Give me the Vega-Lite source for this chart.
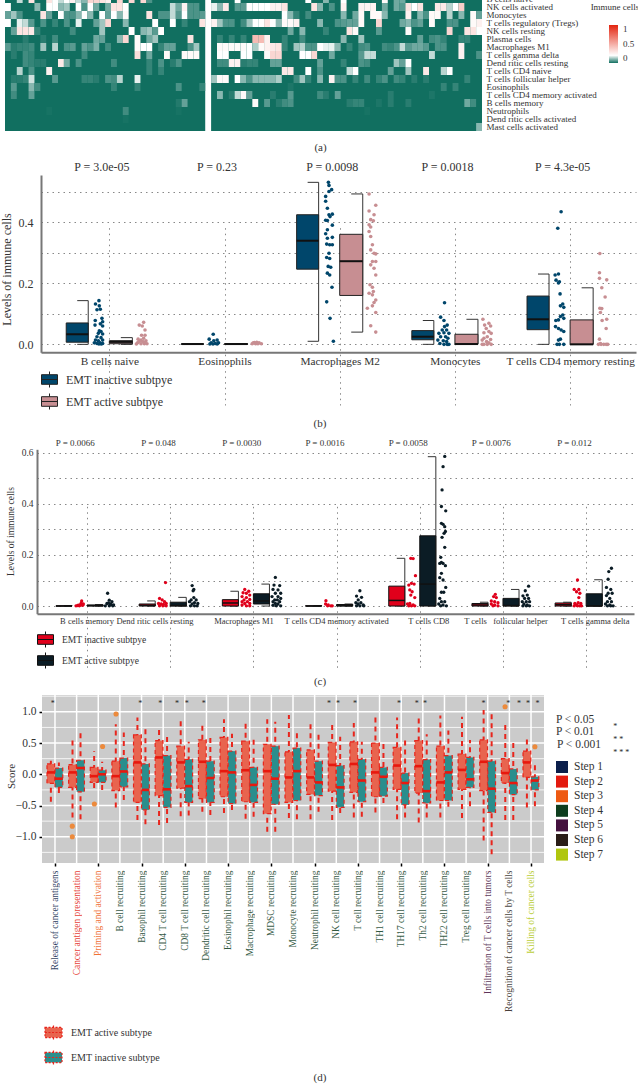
{"$schema":"https://vega.github.io/schema/vega-lite/v6.json","padding":{"left":0,"top":-8,"right":0,"bottom":0},"bounds":"flush","spacing":0,"background":"white",
"resolve":{"scale":{"color":"independent","fill":"independent"},"legend":{"color":"independent","fill":"independent"}},
"config":{"font":"Liberation Serif","view":{"stroke":null},"axis":{"labelColor":"#333","titleColor":"#333","titleFontWeight":"normal","labelOverlap":false,"labelBound":false,"labelFlush":false},"legend":{"labelColor":"#333","titleFontWeight":"normal"},"title":{"fontWeight":"normal","color":"#333"}},
"datasets":{
"heatBase":[{"r":0,"c0":-0.5,"c1":33.5,"v":0},{"r":1,"c0":-0.5,"c1":33.5,"v":0},{"r":2,"c0":-0.5,"c1":33.5,"v":0},{"r":3,"c0":-0.5,"c1":33.5,"v":0},{"r":4,"c0":-0.5,"c1":33.5,"v":0},{"r":5,"c0":-0.5,"c1":33.5,"v":0},{"r":6,"c0":-0.5,"c1":33.5,"v":0},{"r":7,"c0":-0.5,"c1":33.5,"v":0},{"r":8,"c0":-0.5,"c1":33.5,"v":0},{"r":9,"c0":-0.5,"c1":33.5,"v":0},{"r":10,"c0":-0.5,"c1":33.5,"v":0},{"r":11,"c0":-0.5,"c1":33.5,"v":0},{"r":12,"c0":-0.5,"c1":33.5,"v":0},{"r":13,"c0":-0.5,"c1":33.5,"v":0},{"r":14,"c0":-0.5,"c1":33.5,"v":0},{"r":15,"c0":-0.5,"c1":33.5,"v":0},{"r":16,"c0":-0.5,"c1":33.5,"v":0},{"r":0,"c0":34.5,"c1":80.5,"v":0},{"r":1,"c0":34.5,"c1":80.5,"v":0},{"r":2,"c0":34.5,"c1":80.5,"v":0},{"r":3,"c0":34.5,"c1":80.5,"v":0},{"r":4,"c0":34.5,"c1":80.5,"v":0},{"r":5,"c0":34.5,"c1":80.5,"v":0},{"r":6,"c0":34.5,"c1":80.5,"v":0},{"r":7,"c0":34.5,"c1":80.5,"v":0},{"r":8,"c0":34.5,"c1":80.5,"v":0},{"r":9,"c0":34.5,"c1":80.5,"v":0},{"r":10,"c0":34.5,"c1":80.5,"v":0},{"r":11,"c0":34.5,"c1":80.5,"v":0},{"r":12,"c0":34.5,"c1":80.5,"v":0},{"r":13,"c0":34.5,"c1":80.5,"v":0},{"r":14,"c0":34.5,"c1":80.5,"v":0},{"r":15,"c0":34.5,"c1":80.5,"v":0},{"r":16,"c0":34.5,"c1":80.5,"v":0}],
"heat":[
{"r":0,"c":2,"v":0.15},{"r":0,"c":4,"v":0.3},{"r":0,"c":7,"v":0.3},{"r":0,"c":8,"v":0.2},{"r":0,"c":9,"v":0.15},{"r":0,"c":10,"v":0.2},{"r":0,"c":11,"v":0.25},{"r":0,"c":12,"v":0.15},{"r":0,"c":13,"v":0.1},{"r":0,"c":14,"v":0.35},{"r":0,"c":15,"v":0.35},{"r":0,"c":16,"v":0.3},{"r":0,"c":17,"v":0.25},{"r":0,"c":19,"v":0.35},{"r":0,"c":21,"v":0.35},{"r":0,"c":23,"v":0.35},{"r":0,"c":24,"v":0.05},
{"r":1,"c":0,"v":0.2},{"r":1,"c":5,"v":0.1},{"r":1,"c":7,"v":0.2},{"r":1,"c":8,"v":0.2},{"r":1,"c":9,"v":0.1},{"r":1,"c":10,"v":0.12},{"r":1,"c":12,"v":0.2},{"r":1,"c":13,"v":0.05},{"r":1,"c":14,"v":0.2},{"r":1,"c":15,"v":0.08},{"r":1,"c":17,"v":0.08},{"r":1,"c":18,"v":0.3},{"r":1,"c":19,"v":0.3},{"r":1,"c":20,"v":0.2},{"r":1,"c":28,"v":0.15},{"r":1,"c":29,"v":0.08},{"r":1,"c":30,"v":0.25},{"r":1,"c":31,"v":0.05},{"r":1,"c":32,"v":0.05},
{"r":2,"c":0,"v":0.07},{"r":2,"c":1,"v":0.12},{"r":2,"c":2,"v":0.05},{"r":2,"c":6,"v":0.3},{"r":2,"c":7,"v":0.07},{"r":2,"c":9,"v":0.2},{"r":2,"c":10,"v":0.05},{"r":2,"c":11,"v":0.05},{"r":2,"c":12,"v":0.1},{"r":2,"c":13,"v":0.2},{"r":2,"c":14,"v":0.1},{"r":2,"c":16,"v":0.2},{"r":2,"c":17,"v":0.07},{"r":2,"c":18,"v":0.2},{"r":2,"c":19,"v":0.1},{"r":2,"c":20,"v":0.22},{"r":2,"c":24,"v":0.3},{"r":2,"c":26,"v":0.05},{"r":2,"c":27,"v":0.05},{"r":2,"c":28,"v":0.15},{"r":2,"c":29,"v":0.06},{"r":2,"c":30,"v":0.2},{"r":2,"c":31,"v":0.05},{"r":2,"c":32,"v":0.05},{"r":2,"c":33,"v":0.06},
{"r":3,"c":0,"v":0.2},{"r":3,"c":2,"v":0.18},{"r":3,"c":3,"v":0.15},{"r":3,"c":4,"v":0.06},{"r":3,"c":6,"v":0.05},{"r":3,"c":8,"v":0.03},{"r":3,"c":10,"v":0.05},{"r":3,"c":12,"v":0.18},{"r":3,"c":15,"v":0.07},{"r":3,"c":16,"v":0.12},{"r":3,"c":17,"v":0.35},{"r":3,"c":20,"v":0.1},{"r":3,"c":25,"v":0.2},{"r":3,"c":28,"v":0.2},{"r":3,"c":30,"v":0.03},{"r":3,"c":33,"v":0.3},
{"r":4,"c":1,"v":0.07},{"r":4,"c":2,"v":0.3},{"r":4,"c":3,"v":0.3},{"r":4,"c":4,"v":0.28},{"r":4,"c":5,"v":0.03},{"r":4,"c":11,"v":0.04},{"r":4,"c":16,"v":0.12},{"r":4,"c":21,"v":0.2},{"r":4,"c":23,"v":0.1},{"r":4,"c":24,"v":0.12},{"r":4,"c":25,"v":0.06},{"r":4,"c":26,"v":0.2},
{"r":5,"c":3,"v":0.02},{"r":5,"c":6,"v":0.02},{"r":5,"c":8,"v":0.04},{"r":5,"c":15,"v":0.08},{"r":5,"c":16,"v":0.07},{"r":5,"c":19,"v":0.1},{"r":5,"c":20,"v":0.35},{"r":5,"c":22,"v":0.22},{"r":5,"c":24,"v":0.08},{"r":5,"c":25,"v":0.12},{"r":5,"c":31,"v":0.3},
{"r":6,"c":0,"v":0.06},{"r":6,"c":1,"v":0.02},{"r":6,"c":2,"v":0.03},{"r":6,"c":3,"v":0.03},{"r":6,"c":4,"v":0.04},{"r":6,"c":6,"v":0.12},{"r":6,"c":8,"v":0.14},{"r":6,"c":10,"v":0.05},{"r":6,"c":11,"v":0.06},{"r":6,"c":13,"v":0.07},{"r":6,"c":14,"v":0.05},{"r":6,"c":15,"v":0.09},{"r":6,"c":17,"v":0.04},{"r":6,"c":22,"v":0.22},{"r":6,"c":23,"v":0.2},{"r":6,"c":24,"v":0.2},{"r":6,"c":26,"v":0.03},{"r":6,"c":27,"v":0.07},{"r":6,"c":28,"v":0.07},{"r":6,"c":31,"v":0.05},{"r":6,"c":32,"v":0.12},
{"r":7,"c":1,"v":0.02},{"r":7,"c":3,"v":0.04},{"r":7,"c":4,"v":0.03},{"r":7,"c":13,"v":0.04},{"r":7,"c":22,"v":0.32},{"r":7,"c":24,"v":0.08},{"r":7,"c":27,"v":0.22},{"r":7,"c":30,"v":0.22},{"r":7,"c":31,"v":0.22},{"r":7,"c":32,"v":0.22},
{"r":8,"c":3,"v":0.04},{"r":8,"c":4,"v":0.03},{"r":8,"c":5,"v":0.02},{"r":8,"c":6,"v":0.02},{"r":8,"c":9,"v":0.28},{"r":8,"c":10,"v":0.08},{"r":8,"c":12,"v":0.05},{"r":8,"c":18,"v":0.04},{"r":8,"c":24,"v":0.03},{"r":8,"c":26,"v":0.05},{"r":8,"c":28,"v":0.02},{"r":8,"c":29,"v":0.05},
{"r":9,"c":2,"v":0.14},{"r":9,"c":4,"v":0.05},{"r":9,"c":7,"v":0.25},{"r":9,"c":24,"v":0.03},{"r":9,"c":26,"v":0.03},
{"r":10,"c":1,"v":0.02},{"r":10,"c":2,"v":0.02},{"r":10,"c":3,"v":0.03},{"r":10,"c":4,"v":0.16},{"r":10,"c":8,"v":0.06},{"r":10,"c":13,"v":0.03},{"r":10,"c":14,"v":0.03},{"r":10,"c":15,"v":0.02},{"r":10,"c":17,"v":0.05},{"r":10,"c":18,"v":0.04},{"r":10,"c":19,"v":0.14},{"r":10,"c":22,"v":0.18},
{"r":11,"c":1,"v":0.06},{"r":11,"c":4,"v":0.1},{"r":11,"c":5,"v":0.04},{"r":11,"c":18,"v":0.03},{"r":11,"c":22,"v":0.03},{"r":11,"c":29,"v":0.05},{"r":11,"c":33,"v":0.03},
{"r":12,"c":1,"v":0.04},{"r":12,"c":4,"v":0.07},
{"r":13,"c":29,"v":0.015},{"r":13,"c":30,"v":0.07},
{"r":14,"c":7,"v":0.005},{"r":14,"c":20,"v":0.04},{"r":14,"c":29,"v":0.005},
{"r":15,"c":20,"v":0.005},
{"r":0,"c":39,"v":0.2},{"r":0,"c":51,"v":0.2},{"r":0,"c":54,"v":0.1},{"r":0,"c":57,"v":0.2},{"r":0,"c":64,"v":0.22},{"r":0,"c":66,"v":0.08},{"r":0,"c":67,"v":0.08},
{"r":1,"c":35,"v":0.18},{"r":1,"c":36,"v":0.1},{"r":1,"c":37,"v":0.28},{"r":1,"c":39,"v":0.06},{"r":1,"c":40,"v":0.06},{"r":1,"c":41,"v":0.2},{"r":1,"c":42,"v":0.2},{"r":1,"c":43,"v":0.2},{"r":1,"c":44,"v":0.2},{"r":1,"c":45,"v":0.25},{"r":1,"c":46,"v":0.25},{"r":1,"c":47,"v":0.3},{"r":1,"c":52,"v":0.3},{"r":1,"c":53,"v":0.1},{"r":1,"c":55,"v":0.05},{"r":1,"c":57,"v":0.25},{"r":1,"c":60,"v":0.24},{"r":1,"c":61,"v":0.24},{"r":1,"c":62,"v":0.24},{"r":1,"c":64,"v":0.08},{"r":1,"c":66,"v":0.08},{"r":1,"c":67,"v":0.06},{"r":1,"c":68,"v":0.3},{"r":1,"c":69,"v":0.2},{"r":1,"c":70,"v":0.3},{"r":1,"c":73,"v":0.28},{"r":1,"c":74,"v":0.28},{"r":1,"c":75,"v":0.14},{"r":1,"c":76,"v":0.2},{"r":1,"c":77,"v":0.38},
{"r":2,"c":47,"v":0.2},{"r":2,"c":48,"v":0.1},{"r":2,"c":49,"v":0.03},{"r":2,"c":51,"v":0.04},{"r":2,"c":57,"v":0.1},{"r":2,"c":59,"v":0.08},{"r":2,"c":60,"v":0.22},{"r":2,"c":62,"v":0.22},{"r":2,"c":63,"v":0.22},{"r":2,"c":64,"v":0.1},{"r":2,"c":68,"v":0.25},{"r":2,"c":70,"v":0.1},{"r":2,"c":71,"v":0.05},{"r":2,"c":72,"v":0.22},{"r":2,"c":73,"v":0.22},{"r":2,"c":75,"v":0.14},{"r":2,"c":77,"v":0.1},{"r":2,"c":79,"v":0.22},{"r":2,"c":80,"v":0.07},
{"r":3,"c":35,"v":0.25},{"r":3,"c":36,"v":0.12},{"r":3,"c":37,"v":0.05},{"r":3,"c":38,"v":0.05},{"r":3,"c":40,"v":0.04},{"r":3,"c":41,"v":0.12},{"r":3,"c":42,"v":0.2},{"r":3,"c":43,"v":0.2},{"r":3,"c":44,"v":0.3},{"r":3,"c":45,"v":0.2},{"r":3,"c":46,"v":0.1},{"r":3,"c":47,"v":0.22},{"r":3,"c":48,"v":0.22},{"r":3,"c":49,"v":0.25},{"r":3,"c":53,"v":0.1},{"r":3,"c":56,"v":0.05},{"r":3,"c":57,"v":0.06},{"r":3,"c":58,"v":0.07},{"r":3,"c":59,"v":0.07},{"r":3,"c":60,"v":0.22},{"r":3,"c":63,"v":0.35},{"r":3,"c":67,"v":0.08},{"r":3,"c":68,"v":0.1},{"r":3,"c":69,"v":0.05},{"r":3,"c":70,"v":0.07},{"r":3,"c":72,"v":0.22},{"r":3,"c":75,"v":0.05},{"r":3,"c":76,"v":0.05},{"r":3,"c":79,"v":0.22},{"r":3,"c":80,"v":0.25},
{"r":4,"c":48,"v":0.08},{"r":4,"c":50,"v":0.1},{"r":4,"c":54,"v":0.03},{"r":4,"c":58,"v":0.3},{"r":4,"c":59,"v":0.22},{"r":4,"c":63,"v":0.06},{"r":4,"c":68,"v":0.22},{"r":4,"c":75,"v":0.35},{"r":4,"c":78,"v":0.3},{"r":4,"c":79,"v":0.3},{"r":4,"c":80,"v":0.2},
{"r":5,"c":36,"v":0.03},{"r":5,"c":38,"v":0.03},{"r":5,"c":40,"v":0.03},{"r":5,"c":42,"v":0.45},{"r":5,"c":43,"v":0.45},{"r":5,"c":44,"v":0.25},{"r":5,"c":47,"v":0.03},{"r":5,"c":50,"v":0.04},{"r":5,"c":57,"v":0.1},{"r":5,"c":60,"v":0.12},{"r":5,"c":70,"v":0.07},{"r":5,"c":72,"v":0.04},{"r":5,"c":73,"v":0.05},{"r":5,"c":74,"v":0.03},{"r":5,"c":77,"v":0.03},{"r":5,"c":78,"v":0.03},
{"r":6,"c":36,"v":0.22},{"r":6,"c":37,"v":0.22},{"r":6,"c":38,"v":0.22},{"r":6,"c":39,"v":0.22},{"r":6,"c":40,"v":0.22},{"r":6,"c":41,"v":0.2},{"r":6,"c":42,"v":0.13},{"r":6,"c":43,"v":0.22},{"r":6,"c":44,"v":0.25},{"r":6,"c":45,"v":0.28},{"r":6,"c":46,"v":0.3},{"r":6,"c":47,"v":0.03},{"r":6,"c":49,"v":0.12},{"r":6,"c":50,"v":0.14},{"r":6,"c":51,"v":0.05},{"r":6,"c":52,"v":0.05},{"r":6,"c":53,"v":0.2},{"r":6,"c":54,"v":0.18},{"r":6,"c":55,"v":0.18},{"r":6,"c":56,"v":0.1},{"r":6,"c":58,"v":0.03},{"r":6,"c":60,"v":0.04},{"r":6,"c":61,"v":0.05},{"r":6,"c":64,"v":0.04},{"r":6,"c":65,"v":0.03},{"r":6,"c":66,"v":0.05},{"r":6,"c":67,"v":0.15},{"r":6,"c":68,"v":0.06},{"r":6,"c":69,"v":0.08},{"r":6,"c":70,"v":0.08},{"r":6,"c":71,"v":0.06},{"r":6,"c":73,"v":0.05},{"r":6,"c":74,"v":0.05},{"r":6,"c":77,"v":0.25},
{"r":7,"c":36,"v":0.2},{"r":7,"c":37,"v":0.2},{"r":7,"c":40,"v":0.2},{"r":7,"c":41,"v":0.2},{"r":7,"c":44,"v":0.22},{"r":7,"c":45,"v":0.35},{"r":7,"c":46,"v":0.35},{"r":7,"c":50,"v":0.2},{"r":7,"c":51,"v":0.2},{"r":7,"c":52,"v":0.35},{"r":7,"c":55,"v":0.08},{"r":7,"c":60,"v":0.06},{"r":7,"c":61,"v":0.15},{"r":7,"c":62,"v":0.15},{"r":7,"c":72,"v":0.15},{"r":7,"c":77,"v":0.25},{"r":7,"c":80,"v":0.05},
{"r":8,"c":36,"v":0.04},{"r":8,"c":37,"v":0.04},{"r":8,"c":38,"v":0.25},{"r":8,"c":39,"v":0.25},{"r":8,"c":40,"v":0.02},{"r":8,"c":41,"v":0.03},{"r":8,"c":42,"v":0.03},{"r":8,"c":45,"v":0.07},{"r":8,"c":46,"v":0.07},{"r":8,"c":53,"v":0.07},{"r":8,"c":57,"v":0.03},{"r":8,"c":60,"v":0.05},{"r":8,"c":61,"v":0.04},{"r":8,"c":66,"v":0.12},{"r":8,"c":67,"v":0.07},{"r":8,"c":68,"v":0.2},
{"r":9,"c":47,"v":0.28},{"r":9,"c":48,"v":0.28},{"r":9,"c":51,"v":0.2},{"r":9,"c":53,"v":0.05},{"r":9,"c":58,"v":0.15},{"r":9,"c":59,"v":0.2},{"r":9,"c":65,"v":0.07},{"r":9,"c":68,"v":0.12},{"r":9,"c":71,"v":0.28},{"r":9,"c":74,"v":0.14},{"r":9,"c":75,"v":0.2},
{"r":10,"c":35,"v":0.12},{"r":10,"c":36,"v":0.22},{"r":10,"c":37,"v":0.22},{"r":10,"c":39,"v":0.2},{"r":10,"c":40,"v":0.1},{"r":10,"c":41,"v":0.05},{"r":10,"c":42,"v":0.1},{"r":10,"c":43,"v":0.1},{"r":10,"c":44,"v":0.1},{"r":10,"c":45,"v":0.1},{"r":10,"c":46,"v":0.13},{"r":10,"c":49,"v":0.04},{"r":10,"c":50,"v":0.12},{"r":10,"c":51,"v":0.03},{"r":10,"c":53,"v":0.1},{"r":10,"c":55,"v":0.25},{"r":10,"c":56,"v":0.05},{"r":10,"c":57,"v":0.05},{"r":10,"c":59,"v":0.03},{"r":10,"c":61,"v":0.04},{"r":10,"c":63,"v":0.03},{"r":10,"c":64,"v":0.05},{"r":10,"c":66,"v":0.04},{"r":10,"c":67,"v":0.03},{"r":10,"c":69,"v":0.02},{"r":10,"c":71,"v":0.02},{"r":10,"c":78,"v":0.03},
{"r":11,"c":48,"v":0.01},{"r":11,"c":74,"v":0.03},{"r":11,"c":76,"v":0.03},
{"r":12,"c":36,"v":0.1},{"r":12,"c":38,"v":0.02},{"r":12,"c":39,"v":0.15},{"r":12,"c":40,"v":0.22},{"r":12,"c":41,"v":0.07},{"r":12,"c":45,"v":0.02},{"r":12,"c":48,"v":0.06},{"r":12,"c":53,"v":0.04},{"r":12,"c":54,"v":0.02},{"r":12,"c":56,"v":0.07},{"r":12,"c":65,"v":0.02},{"r":12,"c":72,"v":0.01},
{"r":13,"c":42,"v":0.22},{"r":13,"c":44,"v":0.06},{"r":13,"c":46,"v":0.02},{"r":13,"c":47,"v":0.04},{"r":13,"c":48,"v":0.05},{"r":13,"c":58,"v":0.02},{"r":13,"c":59,"v":0.03},{"r":13,"c":60,"v":0.03},{"r":13,"c":63,"v":0.01},{"r":13,"c":65,"v":0.02},{"r":13,"c":68,"v":0.02},{"r":13,"c":78,"v":0.08},{"r":13,"c":79,"v":0.04},
{"r":14,"c":61,"v":0.005},
{"r":16,"c":80,"v":0.1}],
"bBox":[{"i":0,"g":"i","lo":0,"q1":0.007,"med":0.033,"q3":0.07,"hi":0.143},{"i":0,"g":"a","lo":0,"q1":0.002,"med":0.008,"q3":0.012,"hi":0.022},{"i":1,"g":"i","lo":0,"q1":0,"med":0.001,"q3":0.002,"hi":0.002},{"i":1,"g":"a","lo":0,"q1":0,"med":0.001,"q3":0.002,"hi":0.002},{"i":2,"g":"i","lo":0.01,"q1":0.246,"med":0.339,"q3":0.424,"hi":0.53},{"i":2,"g":"a","lo":0.04,"q1":0.16,"med":0.272,"q3":0.36,"hi":0.492},{"i":3,"g":"i","lo":0,"q1":0.015,"med":0.025,"q3":0.045,"hi":0.078},{"i":3,"g":"a","lo":0,"q1":0.001,"med":0.001,"q3":0.033,"hi":0.082},{"i":4,"g":"i","lo":0,"q1":0.048,"med":0.082,"q3":0.158,"hi":0.23},{"i":4,"g":"a","lo":0,"q1":0,"med":0,"q3":0.08,"hi":0.185}],
"bPts":[{"g":"i","x":-0.09,"y":0.143},{"g":"i","x":-0.12,"y":0.132},{"g":"i","x":-0.087,"y":0.126},{"g":"i","x":-0.107,"y":0.113},{"g":"i","x":-0.078,"y":0.115},{"g":"i","x":-0.122,"y":0.078},{"g":"i","x":-0.064,"y":0.085},{"g":"i","x":-0.058,"y":0.074},{"g":"i","x":-0.078,"y":0.067},{"g":"i","x":-0.124,"y":0.063},{"g":"i","x":-0.058,"y":0.06},{"g":"i","x":-0.087,"y":0.044},{"g":"i","x":-0.072,"y":0.042},{"g":"i","x":-0.095,"y":0.036},{"g":"i","x":-0.058,"y":0.034},{"g":"i","x":-0.107,"y":0.025},{"g":"i","x":-0.072,"y":0.022},{"g":"i","x":-0.12,"y":0.014},{"g":"i","x":-0.095,"y":0.012},{"g":"i","x":-0.058,"y":0.014},{"g":"i","x":-0.13,"y":0.005},{"g":"i","x":-0.107,"y":0.003},{"g":"i","x":-0.08,"y":0.005},{"g":"i","x":-0.058,"y":0.003},{"g":"i","x":-0.09,"y":0.001},{"g":"i","x":-0.07,"y":0.001},
{"g":"a","x":0.298,"y":0.072},{"g":"a","x":0.26,"y":0.063},{"g":"a","x":0.286,"y":0.06},{"g":"a","x":0.31,"y":0.047},{"g":"a","x":0.28,"y":0.03},{"g":"a","x":0.31,"y":0.03},{"g":"a","x":0.298,"y":0.02},{"g":"a","x":0.25,"y":0.017},{"g":"a","x":0.275,"y":0.014},{"g":"a","x":0.318,"y":0.012},{"g":"a","x":0.245,"y":0.005},{"g":"a","x":0.275,"y":0.002},{"g":"a","x":0.304,"y":0.002},{"g":"a","x":0.327,"y":0.002},{"g":"a","x":0.26,"y":0.009},{"g":"a","x":0.29,"y":0.009},{"g":"a","x":0.31,"y":0.006},{"g":"a","x":0.235,"y":0.001},
{"g":"i","x":0.902,"y":0.033},{"g":"i","x":0.867,"y":0.017},{"g":"i","x":0.907,"y":0.012},{"g":"i","x":0.936,"y":0.014},{"g":"i","x":0.884,"y":0.005},{"g":"i","x":0.92,"y":0.003},{"g":"i","x":0.948,"y":0.005},{"g":"i","x":0.873,"y":0.001},{"g":"i","x":0.936,"y":0.001},{"g":"i","x":0.9,"y":0.001},
{"g":"a","x":1.24,"y":0.002},{"g":"a","x":1.26,"y":0.006},{"g":"a","x":1.28,"y":0.007},{"g":"a","x":1.3,"y":0.005},{"g":"a","x":1.32,"y":0.002},{"g":"a","x":1.27,"y":0.002},{"g":"a","x":1.25,"y":0.005},{"g":"a","x":1.29,"y":0.002},
{"g":"i","x":1.902,"y":0.53},{"g":"i","x":1.907,"y":0.52},{"g":"i","x":1.93,"y":0.506},{"g":"i","x":1.907,"y":0.5},{"g":"i","x":1.878,"y":0.484},{"g":"i","x":1.878,"y":0.468},{"g":"i","x":1.893,"y":0.445},{"g":"i","x":1.907,"y":0.424},{"g":"i","x":1.936,"y":0.426},{"g":"i","x":1.916,"y":0.418},{"g":"i","x":1.878,"y":0.406},{"g":"i","x":1.893,"y":0.405},{"g":"i","x":1.936,"y":0.39},{"g":"i","x":1.893,"y":0.375},{"g":"i","x":1.878,"y":0.362},{"g":"i","x":1.893,"y":0.347},{"g":"i","x":1.936,"y":0.35},{"g":"i","x":1.887,"y":0.328},{"g":"i","x":1.913,"y":0.326},{"g":"i","x":1.936,"y":0.326},{"g":"i","x":1.907,"y":0.298},{"g":"i","x":1.887,"y":0.284},{"g":"i","x":1.913,"y":0.281},{"g":"i","x":1.9,"y":0.255},{"g":"i","x":1.922,"y":0.252},{"g":"i","x":1.893,"y":0.233},{"g":"i","x":1.913,"y":0.227},{"g":"i","x":1.933,"y":0.187},{"g":"i","x":1.887,"y":0.139},{"g":"i","x":1.916,"y":0.085},{"g":"i","x":1.945,"y":0.01},
{"g":"a","x":2.255,"y":0.492},{"g":"a","x":2.313,"y":0.455},{"g":"a","x":2.255,"y":0.436},{"g":"a","x":2.298,"y":0.424},{"g":"a","x":2.269,"y":0.408},{"g":"a","x":2.292,"y":0.404},{"g":"a","x":2.255,"y":0.391},{"g":"a","x":2.269,"y":0.384},{"g":"a","x":2.255,"y":0.369},{"g":"a","x":2.269,"y":0.353},{"g":"a","x":2.284,"y":0.326},{"g":"a","x":2.269,"y":0.309},{"g":"a","x":2.298,"y":0.298},{"g":"a","x":2.313,"y":0.296},{"g":"a","x":2.284,"y":0.271},{"g":"a","x":2.313,"y":0.271},{"g":"a","x":2.269,"y":0.26},{"g":"a","x":2.298,"y":0.249},{"g":"a","x":2.313,"y":0.227},{"g":"a","x":2.263,"y":0.195},{"g":"a","x":2.284,"y":0.187},{"g":"a","x":2.292,"y":0.173},{"g":"a","x":2.255,"y":0.167},{"g":"a","x":2.284,"y":0.162},{"g":"a","x":2.313,"y":0.145},{"g":"a","x":2.298,"y":0.137},{"g":"a","x":2.284,"y":0.126},{"g":"a","x":2.24,"y":0.118},{"g":"a","x":2.313,"y":0.104},{"g":"a","x":2.269,"y":0.061},{"g":"a","x":2.313,"y":0.04},
{"g":"i","x":2.91,"y":0.136},{"g":"i","x":2.876,"y":0.089},{"g":"i","x":2.905,"y":0.078},{"g":"i","x":2.933,"y":0.063},{"g":"i","x":2.91,"y":0.058},{"g":"i","x":2.89,"y":0.047},{"g":"i","x":2.928,"y":0.047},{"g":"i","x":2.861,"y":0.036},{"g":"i","x":2.905,"y":0.038},{"g":"i","x":2.948,"y":0.036},{"g":"i","x":2.876,"y":0.025},{"g":"i","x":2.919,"y":0.025},{"g":"i","x":2.939,"y":0.02},{"g":"i","x":2.852,"y":0.014},{"g":"i","x":2.899,"y":0.012},{"g":"i","x":2.928,"y":0.009},{"g":"i","x":2.87,"y":0.003},{"g":"i","x":2.905,"y":0},{"g":"i","x":2.933,"y":0},{"g":"i","x":2.948,"y":0},
{"g":"a","x":3.243,"y":0.082},{"g":"a","x":3.295,"y":0.069},{"g":"a","x":3.258,"y":0.063},{"g":"a","x":3.31,"y":0.06},{"g":"a","x":3.272,"y":0.052},{"g":"a","x":3.295,"y":0.042},{"g":"a","x":3.252,"y":0.038},{"g":"a","x":3.315,"y":0.036},{"g":"a","x":3.281,"y":0.025},{"g":"a","x":3.252,"y":0.02},{"g":"a","x":3.31,"y":0.016},{"g":"a","x":3.237,"y":0.014},{"g":"a","x":3.275,"y":0.009},{"g":"a","x":3.295,"y":0.005},{"g":"a","x":3.252,"y":0},{"g":"a","x":3.281,"y":0},{"g":"a","x":3.315,"y":0},{"g":"a","x":3.237,"y":0},
{"g":"i","x":3.922,"y":0.434},{"g":"i","x":3.893,"y":0.38},{"g":"i","x":3.899,"y":0.23},{"g":"i","x":3.87,"y":0.227},{"g":"i","x":3.878,"y":0.21},{"g":"i","x":3.907,"y":0.205},{"g":"i","x":3.899,"y":0.201},{"g":"i","x":3.913,"y":0.165},{"g":"i","x":3.936,"y":0.132},{"g":"i","x":3.916,"y":0.126},{"g":"i","x":3.945,"y":0.121},{"g":"i","x":3.936,"y":0.096},{"g":"i","x":3.916,"y":0.091},{"g":"i","x":3.945,"y":0.085},{"g":"i","x":3.876,"y":0.078},{"g":"i","x":3.899,"y":0.08},{"g":"i","x":3.873,"y":0.058},{"g":"i","x":3.899,"y":0.052},{"g":"i","x":3.922,"y":0.047},{"g":"i","x":3.945,"y":0.042},{"g":"i","x":3.899,"y":0.014},{"g":"i","x":3.916,"y":0.017},{"g":"i","x":3.887,"y":0},{"g":"i","x":3.907,"y":0},{"g":"i","x":3.945,"y":0},
{"g":"a","x":4.258,"y":0.297},{"g":"a","x":4.255,"y":0.234},{"g":"a","x":4.255,"y":0.216},{"g":"a","x":4.318,"y":0.211},{"g":"a","x":4.275,"y":0.185},{"g":"a","x":4.304,"y":0.155},{"g":"a","x":4.258,"y":0.118},{"g":"a","x":4.275,"y":0.117},{"g":"a","x":4.263,"y":0.104},{"g":"a","x":4.318,"y":0.082},{"g":"a","x":4.278,"y":0.078},{"g":"a","x":4.313,"y":0.052},{"g":"a","x":4.255,"y":0.017},{"g":"a","x":4.246,"y":0},{"g":"a","x":4.269,"y":0},{"g":"a","x":4.292,"y":0},{"g":"a","x":4.313,"y":0},{"g":"a","x":4.327,"y":0},{"g":"a","x":4.263,"y":0.003}],
"bP":[{"x":-0.065,"p":"P = 3.0e-05"},{"x":0.935,"p":"P = 0.23"},{"x":1.935,"p":"P = 0.0098"},{"x":2.935,"p":"P = 0.0018"},{"x":3.935,"p":"P = 4.3e-05"}],
"cBox":[{"i":0,"g":"i","lo":0,"q1":0,"med":0,"q3":0.001,"hi":0.002},{"i":0,"g":"a","lo":0,"q1":0,"med":0.002,"q3":0.004,"hi":0.006},{"i":1,"g":"i","lo":0,"q1":0,"med":0.003,"q3":0.008,"hi":0.02},{"i":1,"g":"a","lo":0,"q1":0,"med":0.002,"q3":0.015,"hi":0.034},{"i":2,"g":"i","lo":0,"q1":0,"med":0.012,"q3":0.025,"hi":0.058},{"i":2,"g":"a","lo":0,"q1":0.008,"med":0.02,"q3":0.048,"hi":0.086},{"i":3,"g":"i","lo":0,"q1":0,"med":0,"q3":0.001,"hi":0.002},{"i":3,"g":"a","lo":0,"q1":0,"med":0.002,"q3":0.006,"hi":0.008},{"i":4,"g":"i","lo":0,"q1":0,"med":0.022,"q3":0.078,"hi":0.187},{"i":4,"g":"a","lo":0,"q1":0,"med":0.086,"q3":0.275,"hi":0.585},{"i":5,"g":"i","lo":0,"q1":0,"med":0.004,"q3":0.01,"hi":0.015},{"i":5,"g":"a","lo":0,"q1":0,"med":0.002,"q3":0.03,"hi":0.065},{"i":6,"g":"i","lo":0,"q1":0,"med":0.005,"q3":0.012,"hi":0.015},{"i":6,"g":"a","lo":0,"q1":0,"med":0,"q3":0.048,"hi":0.103}],
"cPts":[{"g":"i","x":-0.064,"y":0.02},{"g":"i","x":-0.08,"y":0.004},{"g":"i","x":-0.112,"y":0.002},{"g":"i","x":-0.052,"y":0.003},{"g":"i","x":-0.132,"y":0.001},{"g":"i","x":-0.092,"y":0.001},{"g":"i","x":-0.044,"y":0.008},{"g":"i","x":-0.07,"y":0.011},{"g":"i","x":-0.1,"y":0.003},
{"g":"a","x":0.248,"y":0.05},{"g":"a","x":0.268,"y":0.023},{"g":"a","x":0.3,"y":0.017},{"g":"a","x":0.24,"y":0.01},{"g":"a","x":0.28,"y":0.008},{"g":"a","x":0.32,"y":0.004},{"g":"a","x":0.22,"y":0.001},{"g":"a","x":0.268,"y":0.001},{"g":"a","x":0.31,"y":0.001},{"g":"a","x":0.29,"y":0.006},{"g":"a","x":0.258,"y":0.012},
{"g":"i","x":0.944,"y":0.092},{"g":"i","x":0.872,"y":0.03},{"g":"i","x":0.904,"y":0.024},{"g":"i","x":0.932,"y":0.017},{"g":"i","x":0.86,"y":0.01},{"g":"i","x":0.892,"y":0.008},{"g":"i","x":0.952,"y":0.01},{"g":"i","x":0.872,"y":0.001},{"g":"i","x":0.912,"y":0.001},{"g":"i","x":0.952,"y":0.001},{"g":"i","x":0.92,"y":0.006},
{"g":"a","x":1.264,"y":0.08},{"g":"a","x":1.284,"y":0.065},{"g":"a","x":1.276,"y":0.06},{"g":"a","x":1.284,"y":0.033},{"g":"a","x":1.252,"y":0.024},{"g":"a","x":1.312,"y":0.024},{"g":"a","x":1.232,"y":0.017},{"g":"a","x":1.292,"y":0.013},{"g":"a","x":1.264,"y":0.008},{"g":"a","x":1.332,"y":0.01},{"g":"a","x":1.244,"y":0.001},{"g":"a","x":1.292,"y":0.001},{"g":"a","x":1.324,"y":0.001},
{"g":"i","x":1.896,"y":0.065},{"g":"i","x":1.944,"y":0.058},{"g":"i","x":1.876,"y":0.052},{"g":"i","x":1.916,"y":0.05},{"g":"i","x":1.956,"y":0.043},{"g":"i","x":1.864,"y":0.037},{"g":"i","x":1.916,"y":0.033},{"g":"i","x":1.956,"y":0.026},{"g":"i","x":1.888,"y":0.024},{"g":"i","x":1.864,"y":0.017},{"g":"i","x":1.928,"y":0.017},{"g":"i","x":1.896,"y":0.01},{"g":"i","x":1.956,"y":0.01},{"g":"i","x":1.864,"y":0.004},{"g":"i","x":1.916,"y":0.001},{"g":"i","x":1.956,"y":0.001},
{"g":"a","x":2.264,"y":0.112},{"g":"a","x":2.248,"y":0.082},{"g":"a","x":2.316,"y":0.08},{"g":"a","x":2.236,"y":0.065},{"g":"a","x":2.296,"y":0.063},{"g":"a","x":2.328,"y":0.05},{"g":"a","x":2.264,"y":0.05},{"g":"a","x":2.224,"y":0.037},{"g":"a","x":2.296,"y":0.037},{"g":"a","x":2.328,"y":0.03},{"g":"a","x":2.256,"y":0.024},{"g":"a","x":2.288,"y":0.024},{"g":"a","x":2.236,"y":0.017},{"g":"a","x":2.316,"y":0.017},{"g":"a","x":2.264,"y":0.01},{"g":"a","x":2.296,"y":0.008},{"g":"a","x":2.236,"y":0.003},{"g":"a","x":2.276,"y":0.001},{"g":"a","x":2.328,"y":0.001},
{"g":"i","x":2.872,"y":0.021},{"g":"i","x":2.868,"y":0.008},{"g":"i","x":2.9,"y":0.004},{"g":"i","x":2.932,"y":0.001},{"g":"i","x":2.892,"y":0.001},{"g":"i","x":2.948,"y":0.001},
{"g":"a","x":3.28,"y":0.06},{"g":"a","x":3.24,"y":0.039},{"g":"a","x":3.3,"y":0.034},{"g":"a","x":3.26,"y":0.024},{"g":"a","x":3.232,"y":0.013},{"g":"a","x":3.292,"y":0.013},{"g":"a","x":3.32,"y":0.004},{"g":"a","x":3.26,"y":0.008},{"g":"a","x":3.24,"y":0.001},{"g":"a","x":3.28,"y":0.001},{"g":"a","x":3.328,"y":0.001},
{"g":"i","x":3.892,"y":0.187},{"g":"i","x":3.92,"y":0.186},{"g":"i","x":3.948,"y":0.119},{"g":"i","x":3.868,"y":0.082},{"g":"i","x":3.9,"y":0.089},{"g":"i","x":3.932,"y":0.086},{"g":"i","x":3.88,"y":0.063},{"g":"i","x":3.908,"y":0.056},{"g":"i","x":3.892,"y":0.043},{"g":"i","x":3.94,"y":0.033},{"g":"i","x":3.852,"y":0.008},{"g":"i","x":3.88,"y":0.01},{"g":"i","x":3.92,"y":0.004},{"g":"i","x":3.94,"y":0.001},{"g":"i","x":3.868,"y":0.001},{"g":"i","x":3.9,"y":0.001},
{"g":"a","x":4.3,"y":0.586},{"g":"a","x":4.28,"y":0.546},{"g":"a","x":4.268,"y":0.455},{"g":"a","x":4.26,"y":0.39},{"g":"a","x":4.312,"y":0.373},{"g":"a","x":4.26,"y":0.324},{"g":"a","x":4.28,"y":0.32},{"g":"a","x":4.3,"y":0.311},{"g":"a","x":4.308,"y":0.292},{"g":"a","x":4.292,"y":0.285},{"g":"a","x":4.268,"y":0.269},{"g":"a","x":4.3,"y":0.23},{"g":"a","x":4.252,"y":0.191},{"g":"a","x":4.26,"y":0.171},{"g":"a","x":4.28,"y":0.167},{"g":"a","x":4.24,"y":0.167},{"g":"a","x":4.308,"y":0.158},{"g":"a","x":4.26,"y":0.128},{"g":"a","x":4.24,"y":0.111},{"g":"a","x":4.28,"y":0.102},{"g":"a","x":4.312,"y":0.073},{"g":"a","x":4.26,"y":0.054},{"g":"a","x":4.288,"y":0.054},{"g":"a","x":4.24,"y":0.03},{"g":"a","x":4.26,"y":0.017},{"g":"a","x":4.3,"y":0.017},{"g":"a","x":4.228,"y":0.008},{"g":"a","x":4.28,"y":0.004},{"g":"a","x":4.32,"y":0.001},{"g":"a","x":4.252,"y":0.001},
{"g":"i","x":4.908,"y":0.046},{"g":"i","x":4.888,"y":0.037},{"g":"i","x":4.92,"y":0.033},{"g":"i","x":4.86,"y":0.02},{"g":"i","x":4.9,"y":0.017},{"g":"i","x":4.94,"y":0.013},{"g":"i","x":4.86,"y":0.008},{"g":"i","x":4.9,"y":0.004},{"g":"i","x":4.94,"y":0.001},{"g":"i","x":4.88,"y":0.001},
{"g":"a","x":5.308,"y":0.078},{"g":"a","x":5.268,"y":0.06},{"g":"a","x":5.24,"y":0.04},{"g":"a","x":5.292,"y":0.043},{"g":"a","x":5.26,"y":0.03},{"g":"a","x":5.308,"y":0.03},{"g":"a","x":5.232,"y":0.017},{"g":"a","x":5.28,"y":0.017},{"g":"a","x":5.32,"y":0.017},{"g":"a","x":5.252,"y":0.008},{"g":"a","x":5.292,"y":0.004},{"g":"a","x":5.24,"y":0.001},{"g":"a","x":5.28,"y":0.001},{"g":"a","x":5.32,"y":0.001},
{"g":"i","x":5.896,"y":0.102},{"g":"i","x":5.856,"y":0.065},{"g":"i","x":5.912,"y":0.065},{"g":"i","x":5.884,"y":0.056},{"g":"i","x":5.924,"y":0.05},{"g":"i","x":5.912,"y":0.033},{"g":"i","x":5.864,"y":0.01},{"g":"i","x":5.904,"y":0.013},{"g":"i","x":5.936,"y":0.01},{"g":"i","x":5.884,"y":0.004},{"g":"i","x":5.924,"y":0.001},{"g":"i","x":5.856,"y":0.001},{"g":"i","x":5.896,"y":0.001},{"g":"i","x":5.944,"y":0.001},
{"g":"a","x":6.304,"y":0.148},{"g":"a","x":6.272,"y":0.135},{"g":"a","x":6.264,"y":0.105},{"g":"a","x":6.244,"y":0.073},{"g":"a","x":6.296,"y":0.065},{"g":"a","x":6.264,"y":0.05},{"g":"a","x":6.312,"y":0.05},{"g":"a","x":6.244,"y":0.041},{"g":"a","x":6.284,"y":0.03},{"g":"a","x":6.256,"y":0.017},{"g":"a","x":6.304,"y":0.017},{"g":"a","x":6.232,"y":0.008},{"g":"a","x":6.284,"y":0.004},{"g":"a","x":6.324,"y":0.001},{"g":"a","x":6.256,"y":0.001},{"g":"a","x":6.296,"y":0.001}],
"cP":[{"x":-0.14,"p":"P = 0.0066"},{"x":0.86,"p":"P = 0.048"},{"x":1.86,"p":"P = 0.0030"},{"x":2.86,"p":"P = 0.0016"},{"x":3.86,"p":"P = 0.0058"},{"x":4.86,"p":"P = 0.0076"},{"x":5.86,"p":"P = 0.012"}],
"cLab":[{"x":0,"t":"B cells memory"},{"x":0.817,"t":"Dend ritic cells resting"},{"x":1.887,"t":"Macrophages M1"},{"x":3,"t":"T cells CD4 memory activated"},{"x":4.109,"t":"T cells CD8"},{"x":5.036,"t":"T cells\u00a0\u00a0\u00a0follicular helper"},{"x":6.108,"t":"T cells gamma delta"}],
"dCat":[{"i":0,"name":"Release of cancer antigens","step":"Step 1"},{"i":1,"name":"Cancer antigen presentation","step":"Step 2"},{"i":2,"name":"Priming and activation","step":"Step 3"},{"i":3,"name":"B cell recruiting","step":"Step 4"},{"i":4,"name":"Basophil recruiting","step":"Step 4"},{"i":5,"name":"CD4 T cell recruiting","step":"Step 4"},{"i":6,"name":"CD8 T cell recruiting","step":"Step 4"},{"i":7,"name":"Dendritic cell recruiting","step":"Step 4"},{"i":8,"name":"Eosinophil recruiting","step":"Step 4"},{"i":9,"name":"Macrophage recruiting","step":"Step 4"},{"i":10,"name":"MDSC recruiting","step":"Step 4"},{"i":11,"name":"Monocyte recruiting","step":"Step 4"},{"i":12,"name":"Neutrophil recruiting","step":"Step 4"},{"i":13,"name":"NK cell recruiting","step":"Step 4"},{"i":14,"name":"T cell recruiting","step":"Step 4"},{"i":15,"name":"TH1 cell recruiting","step":"Step 4"},{"i":16,"name":"TH17 cell recruiting","step":"Step 4"},{"i":17,"name":"Th2 cell recruiting","step":"Step 4"},{"i":18,"name":"TH22 cell recruiting","step":"Step 4"},{"i":19,"name":"Treg cell recruiting","step":"Step 4"},{"i":20,"name":"Infiltration of T cells into tumors","step":"Step 5"},{"i":21,"name":"Recognition of cancer cells by T cells","step":"Step 6"},{"i":22,"name":"Killing of cancer cells","step":"Step 7"}],
"dBox":[{"i":0,"g":"a","lo":-0.44,"q1":-0.145,"med":0.03,"q3":0.165,"hi":0.26},{"i":0,"g":"n","lo":-0.3,"q1":-0.21,"med":-0.07,"q3":0.1,"hi":0.19},{"i":1,"g":"a","lo":-0.69,"q1":-0.21,"med":0.03,"q3":0.155,"hi":0.59},{"i":1,"g":"n","lo":-0.72,"q1":-0.28,"med":0.1,"q3":0.225,"hi":0.7},{"i":2,"g":"a","lo":-0.22,"q1":-0.13,"med":-0.03,"q3":0.11,"hi":0.37},{"i":2,"g":"n","lo":-0.25,"q1":-0.13,"med":0,"q3":0.065,"hi":0.2},{"i":3,"g":"a","lo":-0.53,"q1":-0.26,"med":-0.03,"q3":0.21,"hi":0.8},{"i":3,"g":"n","lo":-0.41,"q1":-0.2,"med":0.045,"q3":0.26,"hi":0.67},{"i":4,"g":"a","lo":-0.73,"q1":-0.45,"med":0.19,"q3":0.63,"hi":0.91},{"i":4,"g":"n","lo":-0.8,"q1":-0.57,"med":-0.25,"q3":0.165,"hi":0.77},{"i":5,"g":"a","lo":-0.81,"q1":-0.34,"med":0.27,"q3":0.54,"hi":0.77},{"i":5,"g":"n","lo":-0.78,"q1":-0.53,"med":-0.24,"q3":0.3,"hi":0.65},{"i":6,"g":"a","lo":-0.67,"q1":-0.22,"med":0.19,"q3":0.45,"hi":0.86},{"i":6,"g":"n","lo":-0.66,"q1":-0.45,"med":-0.19,"q3":0.24,"hi":0.52},{"i":7,"g":"a","lo":-0.6,"q1":-0.39,"med":0.2,"q3":0.55,"hi":0.83},{"i":7,"g":"n","lo":-0.65,"q1":-0.45,"med":-0.06,"q3":0.21,"hi":0.6},{"i":8,"g":"a","lo":-0.62,"q1":-0.36,"med":0.05,"q3":0.59,"hi":0.88},{"i":8,"g":"n","lo":-0.57,"q1":-0.47,"med":0.03,"q3":0.37,"hi":0.65},{"i":9,"g":"a","lo":-0.71,"q1":-0.44,"med":0.065,"q3":0.53,"hi":0.82},{"i":9,"g":"n","lo":-0.68,"q1":-0.45,"med":-0.17,"q3":0.11,"hi":0.59},{"i":10,"g":"a","lo":-0.92,"q1":-0.63,"med":0.05,"q3":0.48,"hi":0.88},{"i":10,"g":"n","lo":-0.92,"q1":-0.48,"med":-0.07,"q3":0.45,"hi":0.84},{"i":11,"g":"a","lo":-0.7,"q1":-0.45,"med":-0.05,"q3":0.36,"hi":0.95},{"i":11,"g":"n","lo":-0.72,"q1":-0.42,"med":0.05,"q3":0.42,"hi":0.71},{"i":12,"g":"a","lo":-0.72,"q1":-0.32,"med":-0.05,"q3":0.39,"hi":0.8},{"i":12,"g":"n","lo":-0.6,"q1":-0.34,"med":-0.13,"q3":0.21,"hi":0.67},{"i":13,"g":"a","lo":-0.73,"q1":-0.27,"med":0.15,"q3":0.51,"hi":0.8},{"i":13,"g":"n","lo":-0.62,"q1":-0.53,"med":-0.21,"q3":0.14,"hi":0.6},{"i":14,"g":"a","lo":-0.69,"q1":-0.29,"med":0.165,"q3":0.52,"hi":0.82},{"i":14,"g":"n","lo":-0.68,"q1":-0.44,"med":-0.1,"q3":0.24,"hi":0.52},{"i":15,"g":"a","lo":-0.61,"q1":-0.36,"med":0.03,"q3":0.5,"hi":0.95},{"i":15,"g":"n","lo":-0.46,"q1":-0.35,"med":-0.04,"q3":0.11,"hi":0.5},{"i":16,"g":"a","lo":-0.72,"q1":-0.24,"med":0.14,"q3":0.43,"hi":0.91},{"i":16,"g":"n","lo":-0.69,"q1":-0.49,"med":-0.14,"q3":0.02,"hi":0.6},{"i":17,"g":"a","lo":-0.77,"q1":-0.3,"med":0.13,"q3":0.54,"hi":0.94},{"i":17,"g":"n","lo":-0.69,"q1":-0.46,"med":-0.27,"q3":0.235,"hi":0.64},{"i":18,"g":"a","lo":-0.69,"q1":-0.42,"med":-0.13,"q3":0.45,"hi":0.94},{"i":18,"g":"n","lo":-0.52,"q1":-0.42,"med":0.03,"q3":0.3,"hi":0.7},{"i":19,"g":"a","lo":-0.7,"q1":-0.24,"med":0.07,"q3":0.325,"hi":0.92},{"i":19,"g":"n","lo":-0.51,"q1":-0.21,"med":-0.08,"q3":0.27,"hi":0.55},{"i":20,"g":"a","lo":-1.06,"q1":-0.26,"med":0.2,"q3":0.55,"hi":1.03},{"i":20,"g":"n","lo":-1.28,"q1":-0.61,"med":-0.23,"q3":0.21,"hi":1},{"i":21,"g":"a","lo":-0.73,"q1":-0.14,"med":0.02,"q3":0.25,"hi":0.84},{"i":21,"g":"n","lo":-0.73,"q1":-0.325,"med":-0.14,"q3":0.085,"hi":0.56},{"i":22,"g":"a","lo":-0.53,"q1":-0.05,"med":0.19,"q3":0.37,"hi":0.59},{"i":22,"g":"n","lo":-0.51,"q1":-0.25,"med":-0.1,"q3":-0.04,"hi":0.176}],
"dOut":[{"x":0.8,"y":-0.83},{"x":0.8,"y":-1},{"x":1.82,"y":-0.475},{"x":2.2,"y":0.445},{"x":2.82,"y":0.965},{"x":20.8,"y":1.08},{"x":22.18,"y":0.44}],
"dStar":[{"x":-0.1},{"x":3.94},{"x":4.87},{"x":5.64},{"x":6.09},{"x":6.88},{"x":12.66},{"x":13.08},{"x":13.86},{"x":15.9},{"x":16.72},{"x":17.1},{"x":19.8},{"x":20.95},{"x":21.45},{"x":21.86},{"x":22.3}],
"dKey":[{"x":23.15,"y":0.87,"t":"P < 0.05"},{"x":23.15,"y":0.677,"t":"P < 0.01"},{"x":23.2,"y":0.469,"t":"P < 0.001"}],
"dKeyStar":[{"x":25.8,"y":0.76,"t":"*"},{"x":25.8,"y":0.545,"t":"*   *"},{"x":25.8,"y":0.345,"t":"*   *   *"}]
},
"vconcat":[
{"width":638,"height":150,
"title":{"text":["Levels of","Immune cells"],"frame":"group","anchor":"start","align":"center","dx":614,"offset":-17,"fontSize":9,"lineHeight":10,"font":"Liberation Serif"},
"layer":[
{"data":{"name":"heatBase"},"mark":{"type":"rect","height":{"band":1}},"encoding":{
"x":{"field":"c0","type":"quantitative","scale":{"domain":[-0.5,80.5],"range":[4,481],"nice":false,"zero":false},"axis":{"labels":false,"ticks":false,"domain":false,"grid":false,"title":"(a)","titleX":319,"titleY":-3,"titleBaseline":"middle","titleAlign":"center","titleFontSize":11}},
"x2":{"field":"c1"},
"y":{"field":"r","type":"ordinal","scale":{"domain":[0,1,2,3,4,5,6,7,8,9,10,11,12,13,14,15,16],"range":[-5,131],"paddingInner":0,"paddingOuter":0,"round":false},"axis":{"orient":"right","offset":-155,"ticks":false,"domain":false,"grid":false,"title":null,"labelAngle":0,"labelAlign":"left","labelPadding":2,"labelFontSize":9,"labelExpr":"['B cells naive','NK cells activated','Monocytes','T cells regulatory (Tregs)','NK cells resting','Plasma cells','Macrophages M1','T cells gamma delta','Dend ritic cells resting','T cells CD4 naive','T cells follicular helper','Eosinophils','T cells CD4 memory activated','B cells memory','Neutrophils','Dend ritic cells activated','Mast cells activated'][datum.value]"}},
"color":{"field":"v","type":"quantitative","scale":{"domain":[0,0.2,1],"range":["#116f60","#ffffff","#e3240f"],"interpolate":"rgb"},"legend":{"orient":"none","legendX":608,"legendY":25,"title":null,"values":[0,0.5,1],"format":".1~f","gradientLength":38,"gradientThickness":9,"labelFontSize":9,"labelOffset":5,"padding":0}}}},
{"data":{"name":"heat"},"mark":{"type":"rect","width":5.89,"height":{"band":1}},"encoding":{"x":{"field":"c","type":"quantitative"},"y":{"field":"r","type":"ordinal"},"color":{"field":"v","type":"quantitative","legend":null}}}
]},
{"width":638,"height":280,
"title":{"text":"(b)","orient":"bottom","offset":-12,"fontSize":11,"font":"Liberation Serif"},
"layer":[
{"data":{"name":"bBox"},"transform":[{"calculate":"datum.i+(datum.g=='i'?-0.374:0)","as":"x0"},{"calculate":"datum.x0+(datum.g=='i'?0.191:0.2)","as":"x1"},{"calculate":"(datum.x0+datum.x1)/2","as":"xm"}],
"layer":[
{"mark":{"type":"rule","color":"#333","strokeWidth":1},"encoding":{
"x":{"field":"x1","type":"quantitative","scale":{"domain":[-0.593,4.572],"range":[40,635],"nice":false,"zero":false},"axis":{"title":null,"values":[0,1,2,3,4],"offset":-77.7,"ticks":false,"domainColor":"#777","domainWidth":2,"labelFontSize":11.3,"labelPadding":3,"grid":true,"gridDash":[1.5,4],"gridColor":"#888","gridWidth":1,"labelExpr":"['B cells naive','Eosinophils','Macrophages M2','Monocytes','T cells CD4 memory resting'][datum.value]"}},
"y":{"field":"lo","type":"quantitative","scale":{"domain":[-0.026,0.554],"range":[202.3,25],"nice":false,"zero":false},"axis":{"title":"Levels of immune cells","titleFontSize":12,"titleX":-35,"titleY":119,"titleAlign":"center","titleBaseline":"middle","values":[0,0.1,0.2,0.3,0.4,0.5],"offset":-40,"ticks":false,"domainColor":"#777","domainWidth":2,"labelFontSize":12,"labelPadding":8,"grid":true,"gridDash":[1.5,4],"gridColor":"#888","gridWidth":1,"labelExpr":"indexof([0,0.2,0.4],datum.value)>=0?format(datum.value,'.1f'):''"}},
"y2":{"field":"hi"}}},
{"mark":{"type":"rule","color":"#333","strokeWidth":1},"encoding":{"x":{"field":"xm","type":"quantitative"},"x2":{"field":"x1"},"y":{"field":"hi","type":"quantitative"}}},
{"mark":{"type":"rule","color":"#333","strokeWidth":1},"encoding":{"x":{"field":"xm","type":"quantitative"},"x2":{"field":"x1"},"y":{"field":"lo","type":"quantitative"}}},
{"mark":{"type":"rect","stroke":"#222","strokeWidth":1},"encoding":{"x":{"field":"x0","type":"quantitative"},"x2":{"field":"x1"},"y":{"field":"q1","type":"quantitative"},"y2":{"field":"q3"},
"color":{"field":"g","type":"nominal","scale":{"domain":["i","a"],"range":["#00466b","#c78e92"]},"legend":{"orient":"none","legendX":40,"legendY":221,"title":null,"direction":"vertical","padding":0,"symbolType":"M-1,-0.6H1V0.6H-1Z M-1,0H1 M0,-0.6V-1 M0,0.6V1","symbolSize":256,"symbolStrokeColor":"#222","symbolStrokeWidth":1,"symbolOpacity":1,"rowPadding":1,"labelFontSize":12,"labelOffset":8,"labelExpr":"datum.value=='i'?'EMT inactive subtpye':'EMT active subtpye'"}}}},
{"mark":{"type":"rule","color":"#111","strokeWidth":2},"encoding":{"x":{"field":"x0","type":"quantitative"},"x2":{"field":"x1"},"y":{"field":"med","type":"quantitative"}}}
]},
{"data":{"name":"bPts"},"mark":{"type":"circle","size":13,"opacity":1},"encoding":{"x":{"field":"x","type":"quantitative"},"y":{"field":"y","type":"quantitative"},"color":{"field":"g","type":"nominal","legend":null}}},
{"data":{"name":"bP"},"mark":{"type":"text","fontSize":12,"color":"#333"},"encoding":{"x":{"field":"x","type":"quantitative"},"y":{"datum":0.581,"type":"quantitative"},"text":{"field":"p"}}}
]},
{"width":638,"height":260,
"title":{"text":"(c)","orient":"bottom","offset":-14,"fontSize":11,"font":"Liberation Serif"},
"layer":[
{"data":{"name":"cBox"},"transform":[{"calculate":"datum.i+(datum.g=='i'?-0.373:0)","as":"x0"},{"calculate":"datum.x0+0.193","as":"x1"},{"calculate":"(datum.x0+datum.x1)/2","as":"xm"}],
"layer":[
{"mark":{"type":"rule","color":"#333","strokeWidth":1},"encoding":{
"x":{"field":"x1","type":"quantitative","scale":{"domain":[-0.601,6.575],"range":[36,633],"nice":false,"zero":false},"axis":{"title":null,"values":[0,1,2,3,4,5,6],"offset":-76.3,"ticks":false,"labels":false,"domainColor":"#777","domainWidth":2,"grid":true,"gridDash":[1.5,4],"gridColor":"#888","gridWidth":1}},
"y":{"field":"lo","type":"quantitative","scale":{"domain":[-0.03,0.614],"range":[183.7,19.3],"nice":false,"zero":false},"axis":{"title":"Levels of immune cells","titleFontSize":9.5,"titleX":-27,"titleY":101,"titleAlign":"center","titleBaseline":"middle","values":[0,0.1,0.2,0.3,0.4,0.5,0.6],"offset":-36,"ticks":false,"domainColor":"#777","domainWidth":2,"labelFontSize":9.5,"labelPadding":4,"grid":true,"gridDash":[1.5,4],"gridColor":"#888","gridWidth":1,"labelExpr":"indexof([0,0.2,0.4,0.6],datum.value)>=0?format(datum.value,'.1f'):''"}},
"y2":{"field":"hi"}}},
{"mark":{"type":"rule","color":"#333","strokeWidth":1},"encoding":{"x":{"field":"xm","type":"quantitative"},"x2":{"field":"x1"},"y":{"field":"hi","type":"quantitative"}}},
{"mark":{"type":"rule","color":"#333","strokeWidth":1},"encoding":{"x":{"field":"xm","type":"quantitative"},"x2":{"field":"x1"},"y":{"field":"lo","type":"quantitative"}}},
{"mark":{"type":"rect","stroke":"#111","strokeWidth":1},"encoding":{"x":{"field":"x0","type":"quantitative"},"x2":{"field":"x1"},"y":{"field":"q1","type":"quantitative"},"y2":{"field":"q3"},
"color":{"field":"g","type":"nominal","scale":{"domain":["i","a"],"range":["#e0001b","#0b1c25"]},"legend":{"orient":"none","legendX":36,"legendY":201,"title":null,"direction":"vertical","padding":0,"symbolType":"M-1,-0.6H1V0.6H-1Z M-1,0H1 M0,-0.6V-1 M0,0.6V1","symbolSize":256,"symbolStrokeColor":"#111","symbolStrokeWidth":1,"symbolOpacity":1,"rowPadding":0,"labelFontSize":9.5,"labelOffset":8,"labelExpr":"datum.value=='i'?'EMT inactive subtpye':'EMT active subtpye'"}}}},
{"mark":{"type":"rule","color":"#111","strokeWidth":1.5},"encoding":{"x":{"field":"x0","type":"quantitative"},"x2":{"field":"x1"},"y":{"field":"med","type":"quantitative"}}}
]},
{"data":{"name":"cPts"},"mark":{"type":"circle","size":11,"opacity":1},"encoding":{"x":{"field":"x","type":"quantitative"},"y":{"field":"y","type":"quantitative"},"color":{"field":"g","type":"nominal","legend":null}}},
{"data":{"name":"cP"},"mark":{"type":"text","fontSize":9,"color":"#333"},"encoding":{"x":{"field":"x","type":"quantitative"},"y":{"datum":0.639,"type":"quantitative"},"text":{"field":"p"}}},
{"data":{"name":"cLab"},"mark":{"type":"text","fontSize":8.5,"color":"#333"},"encoding":{"x":{"field":"x","type":"quantitative"},"y":{"datum":-0.059,"type":"quantitative"},"text":{"field":"t"}}}
]},
{"width":638,"height":394,
"title":{"text":"(d)","orient":"bottom","offset":-12,"fontSize":11,"font":"Liberation Serif"},
"layer":[
{"data":{"values":[{}]},"mark":{"type":"rect","color":"#cbcbcb"},"encoding":{
"x":{"datum":-0.6,"type":"quantitative","scale":{"domain":[-0.6,22.6],"range":[41,543],"nice":false,"zero":false},"axis":{"title":null,"values":[0,1,2,3,4,5,6,7,8,9,10,11,12,13,14,15,16,17,18,19,20,21,22],"labels":false,"domain":false,"grid":false,"offset":-221,"tickSize":3,"tickColor":"#000","tickWidth":1.5}},
"x2":{"datum":22.6},
"y":{"datum":-1.42,"type":"quantitative","scale":{"domain":[-1.42,1.269],"range":[173,5],"nice":false,"zero":false},"axis":{"title":"Score","titleFontSize":11,"titleX":-31,"titleY":86,"titleAlign":"center","titleBaseline":"middle","values":[-1,-0.5,0,0.5,1],"format":".1f","domain":false,"grid":false,"offset":-41,"tickSize":3,"tickColor":"#000","tickWidth":1.5,"labelFontSize":11.5,"labelPadding":3}},
"y2":{"datum":1.269}}},
{"data":{"values":[{"y":1.25},{"y":0.75},{"y":0.25},{"y":-0.25},{"y":-0.75},{"y":-1.25}]},"mark":{"type":"rule","color":"#fff","strokeWidth":0.8},"encoding":{"y":{"field":"y","type":"quantitative"},"x":{"datum":-0.6,"type":"quantitative"},"x2":{"datum":22.6}}},
{"data":{"values":[{"y":1},{"y":0.5},{"y":0},{"y":-0.5},{"y":-1}]},"mark":{"type":"rule","color":"#fff","strokeWidth":1.5},"encoding":{"y":{"field":"y","type":"quantitative"},"x":{"datum":-0.6,"type":"quantitative"},"x2":{"datum":22.6}}},
{"data":{"name":"dCat"},"mark":{"type":"rule","color":"#fff","strokeWidth":1.5},"encoding":{"x":{"field":"i","type":"quantitative"},"y":{"datum":-1.42,"type":"quantitative"},"y2":{"datum":1.269}}},
{"data":{"name":"dBox"},"transform":[{"calculate":"datum.i+(datum.g=='a'?-0.37:0)","as":"x0"},{"calculate":"datum.x0+0.36","as":"x1"},{"calculate":"(datum.x0+datum.x1)/2","as":"xm"}],
"layer":[
{"mark":{"type":"rule","color":"#e8251c","strokeWidth":2,"strokeDash":[5,4]},"encoding":{"x":{"field":"xm","type":"quantitative"},"y":{"field":"lo","type":"quantitative"},"y2":{"field":"hi"}}},
{"mark":{"type":"rect","stroke":"#e8251c","strokeWidth":1.2,"strokeDash":[4,3]},"encoding":{"x":{"field":"x0","type":"quantitative"},"x2":{"field":"x1"},"y":{"field":"q1","type":"quantitative"},"y2":{"field":"q3"},
"fill":{"field":"g","type":"nominal","scale":{"domain":["a","n"],"range":["#e8644f","#2a8e8d"]},"legend":{"orient":"none","legendX":43,"legendY":333,"title":null,"direction":"vertical","padding":0,"symbolType":"M-1,-0.6H1V0.6H-1Z M-1,0H1 M0,-0.6V-1 M0,0.6V1","symbolSize":289,"symbolStrokeColor":"#e8251c","symbolStrokeWidth":1.2,"symbolDash":[2,1.5],"rowPadding":2,"labelFontSize":10,"labelOffset":8,"labelExpr":"datum.value=='a'?'EMT active subtype':'EMT inactive subtype'"}}}},
{"mark":{"type":"rule","color":"#e8180e","strokeWidth":2.6},"encoding":{"x":{"field":"x0","type":"quantitative"},"x2":{"field":"x1"},"y":{"field":"med","type":"quantitative"}}}
]},
{"data":{"name":"dOut"},"mark":{"type":"circle","color":"#ec8a3c","size":26,"opacity":1},"encoding":{"x":{"field":"x","type":"quantitative"},"y":{"field":"y","type":"quantitative"}}},
{"data":{"name":"dStar"},"mark":{"type":"text","text":"*","fontSize":8,"color":"#222"},"encoding":{"x":{"field":"x","type":"quantitative"},"y":{"datum":1.13,"type":"quantitative"}}},
{"data":{"name":"dKey"},"mark":{"type":"text","align":"left","fontSize":11.5,"color":"#333"},"encoding":{"x":{"field":"x","type":"quantitative"},"y":{"field":"y","type":"quantitative"},"text":{"field":"t"}}},
{"data":{"name":"dKeyStar"},"mark":{"type":"text","align":"left","fontSize":8,"color":"#222"},"encoding":{"x":{"field":"x","type":"quantitative"},"y":{"field":"y","type":"quantitative"},"text":{"field":"t"}}},
{"data":{"name":"dCat"},"mark":{"type":"text","angle":270,"align":"right","baseline":"middle","fontSize":9.4,"opacity":0.85},"encoding":{"x":{"field":"i","type":"quantitative"},"y":{"datum":-1.542,"type":"quantitative"},"text":{"field":"name"},
"color":{"field":"step","type":"nominal","scale":{"domain":["Step 1","Step 2","Step 3","Step 4","Step 5","Step 6","Step 7"],"range":["#0b1e4b","#e31a0f","#ee5a12","#0d3d1e","#44113e","#2a1d17","#b0c60e"]},"legend":{"orient":"none","legendX":554,"legendY":70,"title":null,"direction":"vertical","padding":0,"symbolType":"square","symbolSize":144,"symbolOpacity":1,"rowPadding":1.6,"labelFontSize":11.5,"labelOffset":5}}}}
]}
]}
